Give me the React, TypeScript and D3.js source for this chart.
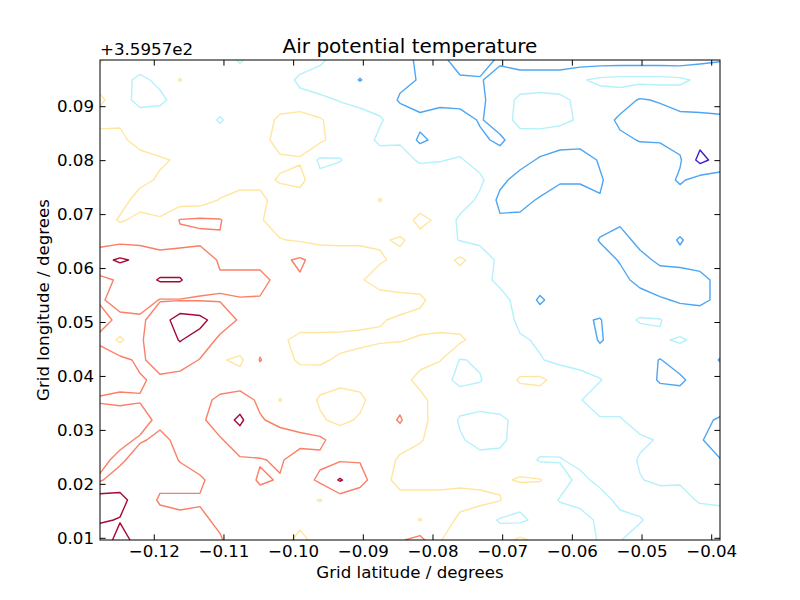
import React from "react";
import * as d3 from "d3";

// Axis extents (grid latitude / longitude, degrees)
const xExtent = [-0.12779, -0.03881];
const yExtent = [0.009685, 0.098656];
const xTicks = [-0.12, -0.11, -0.1, -0.09, -0.08, -0.07, -0.06, -0.05, -0.04];
const yTicks = [0.01, 0.02, 0.03, 0.04, 0.05, 0.06, 0.07, 0.08, 0.09];

// Contour levels (relative temperature classes) and their colours
const levels = [1.5, 2.5, 3.5, 4.5, 5.5, 6.5];
const levelColors = ["#3b1ecb", "#4ea6f2", "#b4f1fb", "#ffe6a0", "#fa7f66", "#a50a36"];

// Field values, rows from top (north) to bottom (south)
const row00 = [4.6, 4, 4, 4, 4, 4, 4, 3.4, 4, 4, 4, 3.7, 3, 3, 3, 2.9, 2.3, 2.3, 2.8, 3, 2.3, 2, 2, 2, 2, 2, 2, 2, 2, 2, 2.3, 2.45];
const row01 = [4, 3.8, 3.3, 3.7, 4.55, 4, 4, 4, 4, 4, 3.3, 3, 3, 2.45, 3, 2.7, 2.45, 2.45, 2.4, 2.4, 3, 3, 3, 3, 3.4, 3.7, 3.8, 3.8, 3.8, 3.7, 3.3, 3];
const row02 = [4.7, 3.9, 3.2, 3.3, 3.9, 4, 4, 4, 4, 4, 3.8, 3.7, 3.45, 3.3, 3.1, 2.4, 2, 2.2, 2.1, 2.3, 3, 3.7, 3.8, 3.7, 3.3, 3, 3, 2.4, 2.6, 2.9, 3, 3];
const row03 = [4.1, 4.3, 4, 4, 4, 4, 3.4, 4, 4, 4.7, 5, 4.6, 4, 3.8, 3.6, 3, 2.8, 3, 3, 2.4, 3, 3.8, 3.9, 3.7, 3.4, 3, 2.3, 2, 2, 2.2, 2.2, 2.3];
const row04 = [5, 4.8, 4, 4, 4, 4, 4, 4, 4, 5, 5, 4.7, 4, 4, 3.3, 3.4, 2.3, 2.8, 3, 2.7, 2.3, 3.1, 3, 3, 2.9, 2.8, 2.7, 2.45, 2.45, 2.2, 1.8, 2];
const row05 = [5, 5, 5, 4.6, 4.4, 4, 4, 4, 4, 4.3, 4.4, 3.35, 3.45, 4, 4, 3.8, 3.4, 3.45, 3.6, 3.1, 3, 2.8, 2.4, 2, 2, 2.6, 3, 3, 2.8, 2.6, 1.2, 1.9];
const row06 = [5, 5, 4.7, 4.4, 4, 4, 4, 4, 4.2, 4.6, 4.8, 3.7, 4, 4, 4, 4, 4, 4, 4, 3.7, 2.7, 2.2, 2, 2.4, 2.45, 2.4, 3, 3, 3, 2.35, 2.9, 2.9];
const row07 = [5, 4.8, 4.2, 4, 4, 4, 4.55, 5, 4.8, 4, 4, 4, 4, 4, 4.55, 4, 4, 4, 4, 3.3, 2.3, 2.2, 2.6, 2.9, 2.7, 2.55, 2.7, 2.9, 3, 3, 3, 3];
const row08 = [5, 4.4, 4.7, 4.6, 5.55, 5.65, 5.55, 5, 4.6, 4, 4, 4, 4, 4, 4, 4, 4.75, 4.3, 3.3, 2.7, 2.6, 2.7, 3, 3, 3.2, 2.8, 2.7, 2.8, 3, 3, 3, 3];
const row09 = [5.1, 5.2, 5.2, 5.2, 5.3, 5.3, 5.45, 5.1, 5, 4.55, 4.4, 4.3, 4.3, 4.3, 4.4, 4.6, 4.2, 3.9, 3.45, 3.3, 3, 3, 3, 3, 3, 2.45, 2.1, 2.8, 3, 2.4, 3, 3];
const row10 = [6.2, 6.65, 6.3, 5.8, 5.8, 6, 5.4, 5.2, 5.3, 5.3, 5.65, 5.1, 5, 5, 4.6, 4.3, 4, 4, 4.7, 4, 3.3, 3, 3, 3, 3, 2.8, 2.45, 2.2, 2.7, 2.8, 2.9, 3];
const row11 = [5.3, 5.6, 6, 6.6, 6.6, 5.7, 5.6, 5.8, 5.7, 5.3, 5.4, 5, 5, 4.6, 4.1, 4, 4, 4, 4, 3.8, 3.3, 3, 3, 3, 3, 3, 2.7, 2.3, 2, 2, 2.2, 2.8];
const row12 = [5.4, 5.8, 6, 5.45, 5.45, 5.45, 5.45, 5.45, 5.45, 5.3, 5.1, 5, 5, 5, 4.9, 4.8, 4.7, 4, 4, 4, 3.8, 3.2, 2.35, 3, 3, 3, 3, 2.8, 2.6, 2.4, 2.3, 2.7];
const row13 = [5.8, 5.3, 5.3, 6, 7, 6.8, 6, 5.4, 5.3, 5.1, 5, 5, 4.8, 4.7, 4.55, 4.4, 4.2, 4, 4, 4, 4, 3.3, 3, 3, 2.6, 2.45, 3.1, 3.6, 3.55, 3, 3, 3];
const row14 = [5.3, 4.3, 5.4, 6, 6.55, 6.1, 5.3, 5.2, 5.2, 4.7, 4.2, 4.2, 4.3, 4.3, 4.4, 4.45, 4.6, 4.8, 4.7, 4, 4, 3.6, 3.4, 3.2, 3.2, 2.4, 3, 3, 3.4, 3.6, 3.3, 3];
const row15 = [6, 5.8, 5.3, 6, 6, 5.45, 4.6, 4.3, 5.55, 4.9, 4.35, 4.4, 4.6, 4.8, 5, 5, 4.8, 4.55, 3.45, 3.6, 4, 4, 3.55, 3.3, 3.2, 3, 3, 3, 2.45, 3, 3, 2.45];
const row16 = [5.9, 5.8, 5.6, 5.3, 5.1, 5, 5, 4.9, 5, 5.1, 5, 4.8, 4.7, 4.8, 5, 4.9, 4.2, 3.8, 3.3, 3.45, 4, 4.6, 4.7, 4.1, 3.8, 3.55, 3, 3, 2.4, 2.3, 3, 3];
const row17 = [5.4, 5.3, 5.45, 5.2, 5, 5.2, 5.7, 6, 5.3, 4.45, 5, 4.4, 4.2, 4.3, 5, 5.2, 4.8, 4, 3.9, 3.9, 4, 4, 4, 4, 3.55, 3, 3, 3, 3, 3, 3, 3];
const row18 = [6, 6, 5.8, 5.3, 5.2, 5.3, 6, 6.7, 5.6, 5.2, 5, 4.6, 4.3, 4.6, 5, 5.6, 4.7, 4.2, 3.4, 3.2, 3.3, 3.8, 4, 4, 3.7, 3.6, 3.6, 3, 3, 3, 2.7, 2.4];
const row19 = [6, 5.7, 5.4, 5.7, 5.3, 5.1, 5.4, 6, 6, 6, 5.8, 5.7, 5, 5, 5, 5, 4.6, 4, 3.6, 3.2, 3.3, 3.9, 4, 3.8, 4, 4, 3.8, 3.7, 3.4, 3, 2.6, 2];
const row20 = [5.7, 5.3, 6, 6, 5.45, 5.2, 5.2, 5.4, 5.45, 5.6, 5.1, 5.3, 5.4, 5.45, 5.2, 4.3, 4, 4, 4, 3.8, 3.8, 4, 3.4, 3.45, 3.7, 3.8, 4, 3.4, 3, 3, 2.9, 2.55];
const row21 = [5.4, 6, 6, 5.7, 5.9, 5.6, 5.2, 5.1, 5.6, 5.45, 5, 5.7, 6.6, 5.8, 5, 4.1, 4, 4, 4.3, 4.3, 4.35, 4.6, 4.55, 3.8, 3.3, 3.7, 4, 3.55, 3.3, 3.4, 3.3, 3];
const row22 = [7, 6.8, 6, 5.4, 5.3, 5.45, 5.1, 5, 5.2, 5.1, 4.8, 4.45, 5, 5, 5, 4.9, 5, 5, 4.8, 4.7, 4.55, 3.8, 3.9, 3.45, 3.2, 3.2, 3.7, 4, 4, 3.8, 3.4, 3.3];
const row23 = [6.6, 6.45, 6.3, 5.8, 5.7, 5.6, 5.4, 5.3, 5.3, 5, 4.7, 5, 5, 5, 5, 5.2, 4.45, 5, 4.3, 4, 3.4, 3.3, 3.8, 3.9, 3.9, 3.3, 3.3, 3.4, 4, 4, 4, 4];
const row24 = [6, 6.8, 6.2, 6, 6, 6, 5.55, 5.2, 5, 4.8, 4.3, 4.8, 5, 5, 5, 5.4, 5.8, 4.55, 4, 4, 4, 4.7, 4.2, 4, 4, 3.4, 3.45, 4, 4, 4, 4, 4];

const grid = [row00, row01, row02, row03, row04, row05, row06, row07, row08, row09, row10, row11, row12,
  row13, row14, row15, row16, row17, row18, row19, row20, row21, row22, row23, row24];

const W = 800, H = 600;
const L = 100, R = 720, T = 60, B = 540;
const FONT = "'DejaVu Sans', sans-serif";

export default function App() {
  const x = d3.scaleLinear().domain(xExtent).range([L, R]);
  const y = d3.scaleLinear().domain(yExtent).range([B, T]);

  const ny = grid.length, nx = grid[0].length;
  const pw = nx + 2, ph = ny + 2;
  const vals: number[] = new Array(pw * ph);
  for (let j = 0; j < ph; j++) {
    for (let i = 0; i < pw; i++) {
      const gi = Math.min(nx - 1, Math.max(0, i - 1));
      const gj = Math.min(ny - 1, Math.max(0, j - 1));
      vals[j * pw + i] = grid[gj][gi];
    }
  }
  const contours = d3.contours().size([pw, ph]).smooth(true).thresholds(levels)(vals);

  const lonAt = (c: number) => xExtent[0] + ((c - 1.5) / (nx - 1)) * (xExtent[1] - xExtent[0]);
  const latAt = (r: number) => yExtent[1] - ((r - 1.5) / (ny - 1)) * (yExtent[1] - yExtent[0]);
  const proj = d3.geoTransform({
    point(px: number, py: number) {
      (this as any).stream.point(x(lonAt(px)), y(latAt(py)));
    },
  });
  const path = d3.geoPath(proj as any);

  const fmt = (v: number) => d3.format(".2f")(v).replace("-", "\u2212");
  const tickLen = 5.6;

  return (
    <svg width={W} height={H} style={{ display: "block", position: "absolute", left: 0, top: 0, background: "#fff" }}>
      <defs>
        <clipPath id="plotclip">
          <rect x={L} y={T} width={R - L} height={B - T} />
        </clipPath>
      </defs>
      <rect x={0} y={0} width={W} height={H} fill="#ffffff" />
      <g clipPath="url(#plotclip)">
        {contours.map((c, k) => (
          <path key={k} d={path(c as any) || ""} fill="none" stroke={levelColors[k]}
            strokeWidth={1.4} strokeLinejoin="round" />
        ))}
      </g>
      <rect x={L} y={T} width={R - L} height={B - T} fill="none" stroke="#000" strokeWidth={1} />
      {xTicks.map((t) => (
        <g key={"x" + t}>
          <line x1={x(t)} x2={x(t)} y1={B} y2={B - tickLen} stroke="#000" strokeWidth={1} />
          <line x1={x(t)} x2={x(t)} y1={T} y2={T + tickLen} stroke="#000" strokeWidth={1} />
          <text x={x(t)} y={557} textAnchor="middle" fontFamily={FONT} fontSize={16.67} fill="#000">{fmt(t)}</text>
        </g>
      ))}
      {yTicks.map((t) => (
        <g key={"y" + t}>
          <line x1={L} x2={L + tickLen} y1={y(t)} y2={y(t)} stroke="#000" strokeWidth={1} />
          <line x1={R} x2={R - tickLen} y1={y(t)} y2={y(t)} stroke="#000" strokeWidth={1} />
          <text x={94} y={y(t) + 5.8} textAnchor="end" fontFamily={FONT} fontSize={16.67} fill="#000">{fmt(t)}</text>
        </g>
      ))}
      <text x={100} y={55} textAnchor="start" fontFamily={FONT} fontSize={16.67} fill="#000">+3.5957e2</text>
      <text x={410} y={53} textAnchor="middle" fontFamily={FONT} fontSize={20} fill="#000">Air potential temperature</text>
      <text x={410} y={578} textAnchor="middle" fontFamily={FONT} fontSize={16.67} fill="#000">Grid latitude / degrees</text>
      <text transform={`translate(49,${(T + B) / 2}) rotate(-90)`} textAnchor="middle" fontFamily={FONT} fontSize={16.67} fill="#000">Grid longitude / degrees</text>
    </svg>
  );
}
